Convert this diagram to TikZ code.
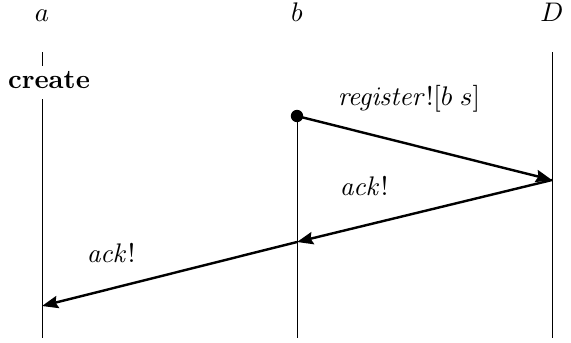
\documentclass[tikz,border=0pt]{standalone}
\usetikzlibrary{arrows.meta}
\begin{document}
\begin{tikzpicture}[x=0.372pt,y=-0.372pt,
  life/.style={line width=0.35pt},
  msg/.style={line width=0.9pt,-{Stealth[length=6pt,width=4.6pt,inset=0.8pt]}},
  lbl/.style={anchor=base,inner sep=0pt}]
\useasboundingbox (0,0) rectangle (571,343);
\node[lbl] (la) at (42,21) {$a$};
\node[lbl] (lb) at (297,21) {$b$};
\node[lbl] (lD) at (552,21) {$D$};
\coordinate (a0) at (42,52);
\coordinate (a1) at (42,66);
\node[lbl] (cr) at (49,88) {\textbf{create}};
\coordinate (a2) at (42,99);
\coordinate (a3) at (42,306);
\coordinate (a4) at (42,338);
\coordinate (b0) at (297,116);
\coordinate (b1) at (297,242);
\coordinate (b2) at (297,338);
\coordinate (d0) at (552,52);
\coordinate (d1) at (552,180);
\coordinate (d2) at (552,338);
\draw[life] (a0) -- (a1);
\draw[life] (a2) -- (a4);
\draw[life] (b0) -- (b2);
\draw[life] (d0) -- (d2);
\fill (b0) circle (2.3pt);
\draw[msg] (b0) -- (d1);
\draw[msg] (d1) -- (b1);
\draw[msg] (b1) -- (a3);
\node[lbl] (m1) at (409,105) {$\mathit{register}![b\;s]$};
\node[lbl] (m2) at (364,195) {$\mathit{ack}!$};
\node[lbl] (m3) at (111,262) {$\mathit{ack}!$};
\end{tikzpicture}
\end{document}
